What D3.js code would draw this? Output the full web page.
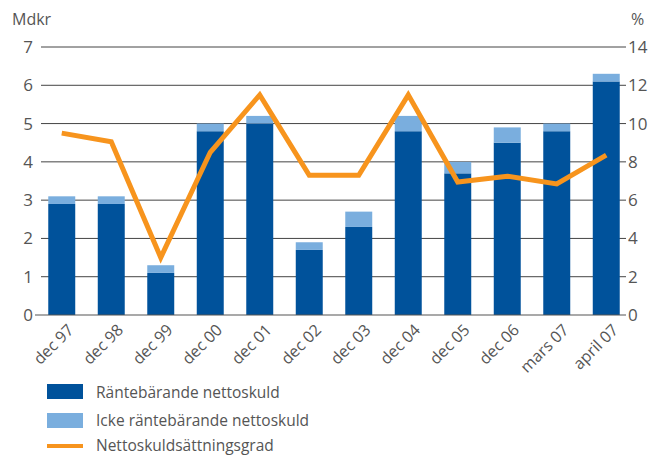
<!DOCTYPE html>
<html><head><meta charset="utf-8">
<script src="https://cdn.jsdelivr.net/npm/d3@7"></script>
<style>body{margin:0;background:#fff}svg{display:block}text{font-family:"Open Sans",sans-serif;fill:#555}</style>
</head><body><svg id="c" width="650" height="455"></svg>
<script>
const categories = ["dec 97","dec 98","dec 99","dec 00","dec 01","dec 02","dec 03","dec 04","dec 05","dec 06","mars 07","april 07"];
const rantebarande = [2.9,2.9,1.1,4.8,5.0,1.7,2.3,4.8,3.7,4.5,4.8,6.1];
const ickeRantebarande = [0.2,0.2,0.2,0.2,0.2,0.2,0.4,0.4,0.3,0.4,0.2,0.2];
const skuldsattningsgrad = [9.5,9.05,3.0,8.5,11.5,7.3,7.3,11.5,6.95,7.25,6.85,8.35];
const leftTicks = [0,1,2,3,4,5,6,7];
const rightTicks = [0,2,4,6,8,10,12,14];
const seriesNames = ["Räntebärande nettoskuld","Icke räntebärande nettoskuld","Nettoskuldsättningsgrad"];

const colDark = "#00529b", colLight = "#7aaede", colLine = "#f7941d";
const svg = d3.select("#c");
const x = d3.scaleBand().domain(categories).range([37,631]).paddingInner(0.455).paddingOuter(0.2275);
const y = d3.scaleLinear().domain([0,7]).range([315,47]);
const y2 = d3.scaleLinear().domain([0,14]).range([315,47]);

// gridlines
svg.append("g").selectAll("line").data(leftTicks.slice(1)).join("line")
  .attr("x1",41).attr("x2",626).attr("y1",d=>y(d)).attr("y2",d=>y(d))
  .attr("stroke","#444").attr("stroke-width",1);
// axis labels
svg.append("g").selectAll("text").data(leftTicks).join("text")
  .attr("x",33).attr("y",d=>y(d)+6).attr("text-anchor","end").attr("font-size",17).text(d=>d);
svg.append("g").selectAll("text").data(rightTicks).join("text")
  .attr("x",628).attr("y",d=>y2(d)+6).attr("text-anchor","start").attr("font-size",17).text(d=>d);
svg.append("text").attr("x",12).attr("y",25).attr("font-size",16).text("Mdkr");
svg.append("text").attr("x",631).attr("y",25).attr("font-size",16).text("%");

// bars
const g = svg.append("g");
g.selectAll(".dk").data(categories).join("rect").attr("class","dk")
  .attr("x",d=>x(d)).attr("width",x.bandwidth())
  .attr("y",(d,i)=>y(rantebarande[i])).attr("height",(d,i)=>y(0)-y(rantebarande[i]))
  .attr("fill",colDark);
g.selectAll(".lt").data(categories).join("rect").attr("class","lt")
  .attr("x",d=>x(d)).attr("width",x.bandwidth())
  .attr("y",(d,i)=>y(rantebarande[i]+ickeRantebarande[i])).attr("height",(d,i)=>y(0)-y(ickeRantebarande[i]))
  .attr("fill",colLight);

// baseline
svg.append("line").attr("x1",35).attr("x2",626).attr("y1",y(0)).attr("y2",y(0)).attr("stroke","#555").attr("stroke-width",1.2);

// line
const line = d3.line().x((d,i)=>x(categories[i])+x.bandwidth()/2).y(d=>y2(d));
svg.append("path").datum(skuldsattningsgrad).attr("d",line).attr("fill","none")
  .attr("stroke",colLine).attr("stroke-width",5).attr("stroke-linejoin","miter");

// x labels
svg.append("g").selectAll("text").data(categories).join("text")
  .attr("transform",d=>`translate(${x(d)+x.bandwidth()/2+13},${331}) rotate(-45)`)
  .attr("text-anchor","end").attr("font-size",16).text(d=>d);

// legend
const lg = svg.append("g");
lg.append("rect").attr("x",47).attr("y",384).attr("width",36).attr("height",15).attr("fill",colDark);
lg.append("rect").attr("x",47).attr("y",413).attr("width",36).attr("height",15).attr("fill",colLight);
lg.append("line").attr("x1",47).attr("x2",83).attr("y1",446).attr("y2",446).attr("stroke",colLine).attr("stroke-width",4);
lg.selectAll("text").data(seriesNames).join("text")
  .attr("x",96).attr("y",(d,i)=>[398,426,451][i]).attr("font-size",15.5).text(d=>d);
</script></body></html>
